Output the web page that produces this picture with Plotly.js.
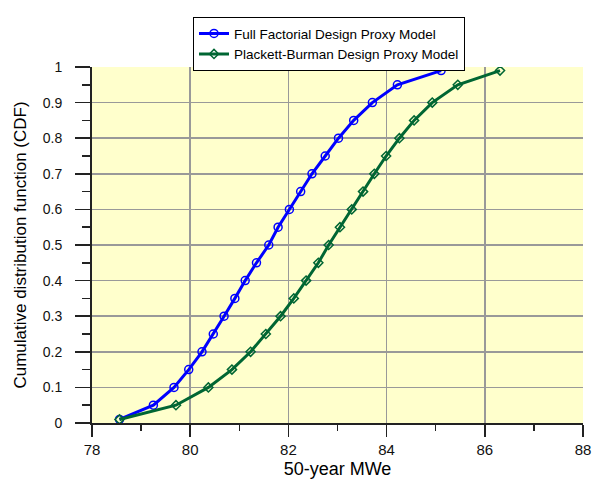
<!DOCTYPE html>
<html>
<head>
<meta charset="utf-8">
<script src="https://cdn.plot.ly/plotly-3.0.1.min.js"></script>
<style>html,body{margin:0;padding:0;background:#fff;}#chart{width:592px;height:479px;}</style>
</head>
<body>
<div id="chart"></div>
<script>
// CDF levels
const cdfLevels = [0.01, 0.05, 0.10, 0.15, 0.20, 0.25, 0.30, 0.35, 0.40, 0.45, 0.50,
                   0.55, 0.60, 0.65, 0.70, 0.75, 0.80, 0.85, 0.90, 0.95, 0.99];
// 50-year MWe, Full Factorial Design Proxy Model
const fullFactorialMWe = [78.56, 79.25, 79.67, 79.97, 80.24, 80.47, 80.69, 80.91, 81.12, 81.35, 81.60,
                          81.79, 82.02, 82.25, 82.48, 82.75, 83.02, 83.33, 83.71, 84.22, 85.11];
// 50-year MWe, Plackett-Burman Design Proxy Model
const plackettBurmanMWe = [78.56, 79.71, 80.37, 80.85, 81.23, 81.54, 81.84, 82.11, 82.36, 82.61, 82.82,
                           83.05, 83.29, 83.52, 83.75, 83.99, 84.26, 84.56, 84.93, 85.45, 86.31];
const seriesNames = ["Full Factorial Design Proxy Model", "Plackett-Burman Design Proxy Model"];
const xTitle = "50-year MWe";
const yTitle = "Cumulative distribution function (CDF)";

const font = "Arial, 'Liberation Sans', sans-serif";

const traces = [
  {
    x: fullFactorialMWe, y: cdfLevels, name: seriesNames[0],
    type: "scatter", mode: "lines+markers",
    line: {color: "#0000FF", width: 3},
    marker: {symbol: "circle-open", size: 8, color: "#0000FF", line: {width: 1.5, color: "#0000FF"}}
  },
  {
    x: plackettBurmanMWe, y: cdfLevels, name: seriesNames[1],
    type: "scatter", mode: "lines+markers",
    line: {color: "#006633", width: 3},
    marker: {symbol: "diamond-open", size: 7, color: "#006633", line: {width: 1.5, color: "#006633"}}
  }
];

const layout = {
  width: 592, height: 479,
  margin: {l: 92, r: 9, t: 67, b: 56, pad: 0},
  paper_bgcolor: "#FFFFFF",
  plot_bgcolor: "#FFFFCC",
  font: {family: font, size: 13, color: "#222"},
  showlegend: true,
  legend: {
    x: 0.2057, y: 1.14, xanchor: "left", yanchor: "top",
    bgcolor: "#FFFFFF", bordercolor: "#000000", borderwidth: 1,
    font: {family: font, size: 13.5, color: "#000"},
    tracegroupgap: 0, itemwidth: 30
  },
  xaxis: {
    range: [78, 88], dtick: 2, tick0: 78,
    showgrid: true, gridcolor: "#999999", gridwidth: 1.5,
    showline: true, linecolor: "#222222", linewidth: 2,
    ticks: "outside", ticklen: 12, tickwidth: 1.5, tickcolor: "#222222",
    ticklabelstandoff: 0,
    tickfont: {family: font, size: 15, color: "#111"},
    minor: {dtick: 1, ticks: "outside", ticklen: 6, tickwidth: 1.5, tickcolor: "#222222", showgrid: false},
    zeroline: false,
    title: {text: xTitle, font: {family: font, size: 18, color: "#000"}, standoff: 15}
  },
  yaxis: {
    range: [0, 1], dtick: 0.1, tick0: 0,
    showgrid: true, gridcolor: "#999999", gridwidth: 1.5,
    showline: true, linecolor: "#222222", linewidth: 2,
    ticks: "outside", ticklen: 15, tickwidth: 1.5, tickcolor: "#222222",
    ticklabelstandoff: 10,
    tickfont: {family: font, size: 14, color: "#111"},
    minor: {dtick: 0.05, ticks: "outside", ticklen: 8, tickwidth: 1.5, tickcolor: "#222222", showgrid: false},
    zeroline: false,
    title: {text: yTitle, font: {family: font, size: 17, color: "#000"}, standoff: 12}
  }
};

Plotly.newPlot("chart", traces, layout, {displayModeBar: false, staticPlot: true});
</script>
</body>
</html>
